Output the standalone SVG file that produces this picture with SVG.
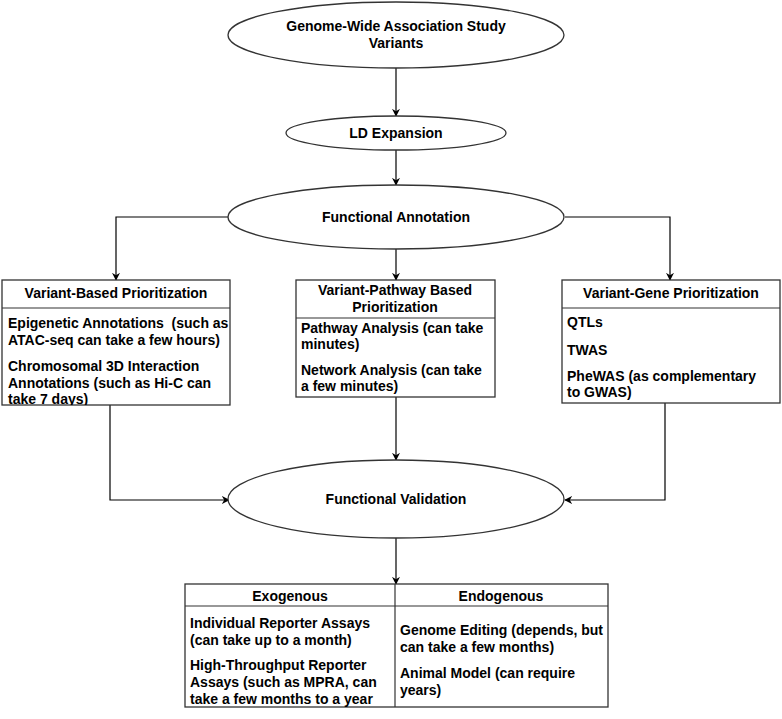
<svg xmlns="http://www.w3.org/2000/svg" width="782" height="719" viewBox="0 0 782 719">
<style>
text{font-family:"Liberation Sans",Arial,sans-serif;font-weight:bold;font-size:14px;fill:#000;white-space:pre}
.c{text-anchor:middle}
.shape{fill:#fff;stroke:#333;stroke-width:1.3}
.line{fill:none;stroke:#333;stroke-width:1.2}
.conn{fill:none;stroke:#000;stroke-width:1.2;marker-end:url(#arr)}
</style>
<defs>
<marker id="arr" viewBox="0 0 10 10" refX="9" refY="5" markerWidth="8" markerHeight="8" markerUnits="userSpaceOnUse" orient="auto">
<path d="M0,0 L10,5 L0,10 L3,5 Z" fill="#000"/>
</marker>
<clipPath id="clipL"><rect x="2" y="280" width="228" height="125"/></clipPath>
<clipPath id="clipM"><rect x="296" y="280" width="199" height="117"/></clipPath>
<clipPath id="clipT"><rect x="185" y="584" width="423" height="123"/></clipPath>
</defs>
<rect width="782" height="719" fill="#fff"/>
<g id="connectors">
<path class="conn" d="M396,68 V116"/>
<path class="conn" d="M396,150 V185"/>
<path class="conn" d="M229,217 H116 V280"/>
<path class="conn" d="M565,217 H670 V280"/>
<path class="conn" d="M396,249 V280"/>
<path class="conn" d="M110,405 V500 H229"/>
<path class="conn" d="M396,397 V460"/>
<path class="conn" d="M665,403 V500 H565"/>
<path class="conn" d="M396,538 V584"/>
</g>
<g id="gwas">
<ellipse class="shape" cx="396" cy="35" rx="168" ry="33"/>
<text class="c" x="396" y="31">Genome-Wide Association Study</text>
<text class="c" x="396" y="48">Variants</text>
</g>
<g id="ld">
<ellipse class="shape" cx="396" cy="133" rx="110" ry="17"/>
<text class="c" x="396" y="138">LD Expansion</text>
</g>
<g id="functional-annotation">
<ellipse class="shape" cx="396" cy="217" rx="168" ry="32"/>
<text class="c" x="396" y="222">Functional Annotation</text>
</g>
<g id="variant-based">
<rect class="shape" x="2" y="280" width="228" height="125"/>
<line class="line" x1="2" y1="308" x2="230" y2="308"/>
<text class="c" x="116" y="298">Variant-Based Prioritization</text>
<g clip-path="url(#clipL)">
<text x="8" y="328" xml:space="preserve">Epigenetic Annotations  (such as</text>
<text x="8" y="345">ATAC-seq can take a few hours)</text>
<text x="8" y="371">Chromosomal 3D Interaction</text>
<text x="8" y="388">Annotations (such as Hi-C can</text>
<text x="8" y="404">take 7 days)</text>
</g>
</g>
<g id="variant-pathway">
<rect class="shape" x="296" y="280" width="199" height="117"/>
<line class="line" x1="296" y1="318" x2="495" y2="318"/>
<text class="c" x="395" y="295">Variant-Pathway Based</text>
<text class="c" x="395" y="312">Prioritization</text>
<g clip-path="url(#clipM)">
<text x="301" y="333">Pathway Analysis (can take</text>
<text x="301" y="349">minutes)</text>
<text x="301" y="375">Network Analysis (can take</text>
<text x="301" y="391">a few minutes)</text>
</g>
</g>
<g id="variant-gene">
<rect class="shape" x="562" y="280" width="218" height="123"/>
<line class="line" x1="562" y1="308" x2="780" y2="308"/>
<text class="c" x="671" y="298">Variant-Gene Prioritization</text>
<text x="567" y="327">QTLs</text>
<text x="567" y="355">TWAS</text>
<text x="567" y="381">PheWAS (as complementary</text>
<text x="567" y="397">to GWAS)</text>
</g>
<g id="functional-validation">
<ellipse class="shape" cx="396" cy="499" rx="168" ry="39"/>
<text class="c" x="396" y="504">Functional Validation</text>
</g>
<g id="validation-table">
<rect class="shape" x="185" y="584" width="423" height="123"/>
<line class="line" x1="185" y1="606" x2="608" y2="606"/>
<line class="line" x1="395" y1="584" x2="395" y2="707"/>
<text class="c" x="290" y="601">Exogenous</text>
<text class="c" x="501" y="601">Endogenous</text>
<g clip-path="url(#clipT)">
<text x="190" y="628">Individual Reporter Assays</text>
<text x="190" y="645">(can take up to a month)</text>
<text x="190" y="670">High-Throughput Reporter</text>
<text x="190" y="687">Assays (such as MPRA, can</text>
<text x="190" y="704">take a few months to a year</text>
<text x="400" y="635">Genome Editing (depends, but</text>
<text x="400" y="652">can take a few months)</text>
<text x="400" y="678">Animal Model (can require</text>
<text x="400" y="695">years)</text>
</g>
</g>
</svg>
